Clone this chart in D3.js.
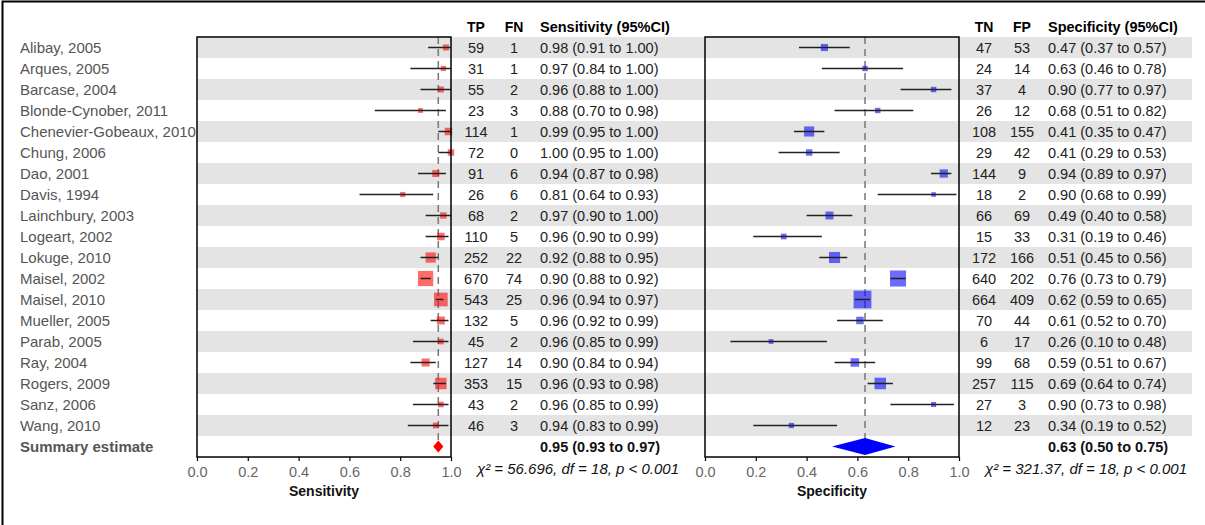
<!DOCTYPE html>
<html>
<head>
<meta charset="utf-8">
<script src="https://cdn.jsdelivr.net/npm/d3@7"></script>
<style>
  body { margin: 0; background: #fff; }
  svg { font-family: "Liberation Sans", Arial, sans-serif; }
</style>
</head>
<body>
<div id="result"></div>
<script>
// study data
const studies = ['Alibay, 2005', 'Arques, 2005', 'Barcase, 2004', 'Blonde-Cynober, 2011',
  'Chenevier-Gobeaux, 2010', 'Chung, 2006', 'Dao, 2001', 'Davis, 1994', 'Lainchbury, 2003',
  'Logeart, 2002', 'Lokuge, 2010', 'Maisel, 2002', 'Maisel, 2010', 'Mueller, 2005',
  'Parab, 2005', 'Ray, 2004', 'Rogers, 2009', 'Sanz, 2006', 'Wang, 2010'];
const tp = [59, 31, 55, 23, 114, 72, 91, 26, 68, 110, 252, 670, 543, 132, 45, 127, 353, 43, 46];
const fn = [1, 1, 2, 3, 1, 0, 6, 6, 2, 5, 22, 74, 25, 5, 2, 14, 15, 2, 3];
const sens = [0.98, 0.97, 0.96, 0.88, 0.99, 1.00, 0.94, 0.81, 0.97, 0.96, 0.92, 0.90, 0.96, 0.96, 0.96, 0.90, 0.96, 0.96, 0.94];
const sensLo = [0.91, 0.84, 0.88, 0.70, 0.95, 0.95, 0.87, 0.64, 0.90, 0.90, 0.88, 0.88, 0.94, 0.92, 0.85, 0.84, 0.93, 0.85, 0.83];
const sensHi = [1.00, 1.00, 1.00, 0.98, 1.00, 1.00, 0.98, 0.93, 1.00, 0.99, 0.95, 0.92, 0.97, 0.99, 0.99, 0.94, 0.98, 0.99, 0.99];
const tn = [47, 24, 37, 26, 108, 29, 144, 18, 66, 15, 172, 640, 664, 70, 6, 99, 257, 27, 12];
const fp = [53, 14, 4, 12, 155, 42, 9, 2, 69, 33, 166, 202, 409, 44, 17, 68, 115, 3, 23];
const spec = [0.47, 0.63, 0.90, 0.68, 0.41, 0.41, 0.94, 0.90, 0.49, 0.31, 0.51, 0.76, 0.62, 0.61, 0.26, 0.59, 0.69, 0.90, 0.34];
const specLo = [0.37, 0.46, 0.77, 0.51, 0.35, 0.29, 0.89, 0.68, 0.40, 0.19, 0.45, 0.73, 0.59, 0.52, 0.10, 0.51, 0.64, 0.73, 0.19];
const specHi = [0.57, 0.78, 0.97, 0.82, 0.47, 0.53, 0.97, 0.99, 0.58, 0.46, 0.56, 0.79, 0.65, 0.70, 0.48, 0.67, 0.74, 0.98, 0.52];

const summaryLabel = 'Summary estimate';
const sensSummary = [0.95, 0.93, 0.97];
const specSummary = [0.63, 0.50, 0.75];
const sensStats = ['56.696', '18', '0.001'];
const specStats = ['321.37', '18', '0.001'];
const tickValues = [0, 0.2, 0.4, 0.6, 0.8, 1.0];

const W = 1205, H = 525;
const f2 = d3.format('.2f');

const svg = d3.select('#result').append('svg')
  .attr('width', W).attr('height', H);

// outer frame (only top/left edges visible)
svg.append('rect')
  .attr('x', 2.5).attr('y', 1.5).attr('width', W + 10).attr('height', H + 10)
  .attr('fill', 'none').attr('stroke', '#000').attr('stroke-width', 2);

const rows = studies.concat([summaryLabel]);
const y = d3.scaleBand().domain(rows).range([37, 457]);

// alternate row bands
svg.append('g').selectAll('rect')
  .data(rows.filter((d, i) => i % 2 === 0))
  .enter().append('rect')
  .attr('x', 197).attr('width', 1192 - 197)
  .attr('y', d => y(d)).attr('height', y.bandwidth())
  .attr('fill', '#e4e4e4');

// study labels
svg.append('g').selectAll('text')
  .data(rows)
  .enter().append('text')
  .attr('x', 20)
  .attr('y', d => y(d) + y.bandwidth() / 2)
  .attr('dy', '0.36em')
  .attr('font-size', 15)
  .attr('font-weight', d => d === summaryLabel ? 'bold' : null)
  .attr('fill', '#555')
  .text(d => d);

const nMax = 1100;
const boxSize = d3.scaleSqrt().domain([0, nMax]).range([2.5, 18]);

function panel(opts) {
  const x = d3.scaleLinear().domain([0, 1]).range([opts.left, opts.left + 254]);
  const g = svg.append('g');

  // reference line at summary
  g.append('line')
    .attr('x1', x(opts.summary[0])).attr('x2', x(opts.summary[0]))
    .attr('y1', 37).attr('y2', 457)
    .attr('stroke', '#777').attr('stroke-width', 1.5)
    .attr('stroke-dasharray', '7,5');

  const data = studies.map((s, i) => ({
    name: s, est: opts.est[i], lo: opts.lo[i], hi: opts.hi[i], n: opts.a[i] + opts.b[i]
  }));

  g.selectAll('rect.box')
    .data(data).enter().append('rect')
    .attr('class', 'box')
    .attr('x', d => x(d.est) - boxSize(d.n) / 2)
    .attr('y', d => y(d.name) + y.bandwidth() / 2 - boxSize(d.n) / 2)
    .attr('width', d => boxSize(d.n))
    .attr('height', d => boxSize(d.n))
    .attr('fill', opts.color).attr('fill-opacity', 0.58);

  g.selectAll('line.ci')
    .data(data).enter().append('line')
    .attr('class', 'ci')
    .attr('x1', d => x(d.lo)).attr('x2', d => x(d.hi))
    .attr('y1', d => y(d.name) + y.bandwidth() / 2)
    .attr('y2', d => y(d.name) + y.bandwidth() / 2)
    .attr('stroke', '#222').attr('stroke-width', 1.5);

  // summary diamond
  const cy = y(summaryLabel) + y.bandwidth() / 2;
  const s = opts.summary;
  g.append('path')
    .attr('d', `M${x(s[1])},${cy}L${x(s[0])},${cy - opts.dh}L${x(s[2])},${cy}L${x(s[0])},${cy + opts.dh}Z`)
    .attr('fill', opts.color);

  // panel frame
  g.append('rect')
    .attr('x', opts.left).attr('y', 37)
    .attr('width', 254).attr('height', 420)
    .attr('fill', 'none').attr('stroke', '#000').attr('stroke-width', 1.5);

  const ax = g.append('g')
    .attr('transform', 'translate(0,457)')
    .call(d3.axisBottom(x).tickValues(tickValues).tickFormat(d3.format('.1f'))
      .tickSizeInner(4).tickSizeOuter(0).tickPadding(6));
  ax.select('.domain').remove();
  ax.selectAll('line').attr('stroke', '#000').attr('stroke-width', 1.2);
  ax.selectAll('text').attr('font-size', 14.5).attr('fill', '#666')
    .attr('font-family', '"Liberation Sans", Arial, sans-serif');

  g.append('text')
    .attr('x', opts.left + 127).attr('y', 496)
    .attr('text-anchor', 'middle')
    .attr('font-size', 14).attr('font-weight', 'bold').attr('fill', '#111')
    .text(opts.title);

  // table columns
  const cols = opts.cols;
  g.append('text').attr('x', cols[0]).attr('y', 32).attr('text-anchor', 'middle')
    .attr('font-size', 14).attr('font-weight', 'bold').text(opts.heads[0]);
  g.append('text').attr('x', cols[1]).attr('y', 32).attr('text-anchor', 'middle')
    .attr('font-size', 14).attr('font-weight', 'bold').text(opts.heads[1]);
  g.append('text').attr('x', cols[2]).attr('y', 32)
    .attr('font-size', 14.5).attr('font-weight', 'bold').text(opts.heads[2]);

  const rowsG = g.selectAll('g.trow')
    .data(data).enter().append('g')
    .attr('class', 'trow')
    .attr('transform', d => `translate(0,${y(d.name) + y.bandwidth() / 2})`)
    .attr('font-size', 14.5).attr('fill', '#222');
  rowsG.append('text').attr('x', cols[0]).attr('dy', '0.36em').attr('text-anchor', 'middle')
    .text((d, i) => opts.a[i]);
  rowsG.append('text').attr('x', cols[1]).attr('dy', '0.36em').attr('text-anchor', 'middle')
    .text((d, i) => opts.b[i]);
  rowsG.append('text').attr('x', cols[2]).attr('dy', '0.36em')
    .text(d => `${f2(d.est)} (${f2(d.lo)} to ${f2(d.hi)})`);

  g.append('text').attr('x', cols[2]).attr('y', cy).attr('dy', '0.36em')
    .attr('font-size', 14.5).attr('font-weight', 'bold').attr('fill', '#111')
    .text(`${f2(s[0])} (${f2(s[1])} to ${f2(s[2])})`);

  g.append('text').attr('x', opts.statX).attr('y', 474)
    .attr('text-anchor', 'middle')
    .attr('font-size', 15).attr('font-style', 'italic').attr('fill', '#111')
    .text(`χ² = ${opts.stats[0]}, df = ${opts.stats[1]}, p < ${opts.stats[2]}`);
}

panel({
  left: 197, est: sens, lo: sensLo, hi: sensHi, a: tp, b: fn,
  summary: sensSummary, stats: sensStats, color: '#ff0000', dh: 6,
  title: 'Sensitivity', heads: ['TP', 'FN', 'Sensitivity (95%CI)'],
  cols: [476, 514, 540], statX: 578
});

panel({
  left: 705, est: spec, lo: specLo, hi: specHi, a: tn, b: fp,
  summary: specSummary, stats: specStats, color: '#0000ff', dh: 8.5,
  title: 'Specificity', heads: ['TN', 'FP', 'Specificity (95%CI)'],
  cols: [984, 1022, 1048], statX: 1086
});
</script>
</body>
</html>
